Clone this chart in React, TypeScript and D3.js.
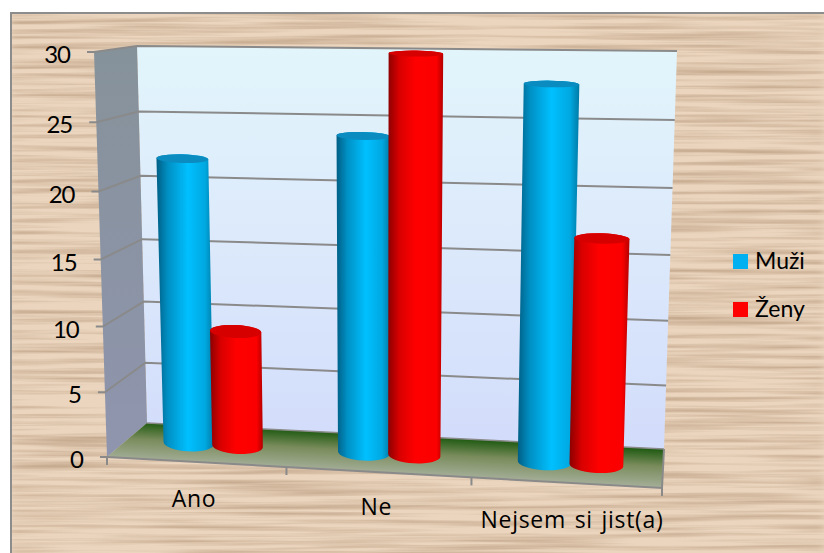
import React from "react";
import * as d3 from "d3";

const categories = ["Ano", "Ne", "Nejsem si jist(a)"];
const seriesNames = ["Muži", "Ženy"];
const muzi = [22, 24, 28];
const zeny = [9, 30, 17];
const yTicks = [0, 5, 10, 15, 20, 25, 30];
const labelNudgeX = [-2, -2, 6];
const labelNudgeY = [45, 43, 45];

const W = 824, H = 553;
type P = [number, number];
// perspective box corners: front/back, bottom/top, left/right
const FBL: P = [107, 457], FBR: P = [662, 488], BBL: P = [147, 423], BBR: P = [664, 449];
const FTL: P = [94, 52], FTR: P = [675, 64], BTL: P = [137, 46], BTR: P = [677, 51];

const lerp = (a: P, b: P, t: number): P => [a[0] + (b[0] - a[0]) * t, a[1] + (b[1] - a[1]) * t];
const vScale = d3.scaleLinear().domain([0, 30]).range([0, 1]);
const warpV = (v: number) => v - 0.05 * v * (1 - v);
const warpU = (u: number) => u - 0.045 * u * (1 - u);
// u along categories, value along y, d depth (0 front, 1 back)
function project(uRaw: number, value: number, d: number): P {
  const v = warpV(vScale(value));
  const u = warpU(uRaw);
  const front = lerp(lerp(FBL, FBR, u), lerp(FTL, FTR, u), v);
  const back = lerp(lerp(BBL, BBR, u), lerp(BTL, BTR, u), v);
  return lerp(front, back, d);
}
const pts = (a: P[]) => a.map((p) => p.join(",")).join(" ");

const band = d3.scaleBand<string>().domain(categories).range([0, 1]);
const inner = d3.scalePoint<string>().domain(seriesNames).range([-0.047, 0.047]);
const ryScale = d3.scaleLinear().domain([0, 30]).range([8, 3]);
const BAR_W = 0.097, DEPTH = 0.5;

const colors = { "Muži": "#00b0f0", "Ženy": "#ff0000" } as Record<string, string>;
const tops = { "Muži": "#0a8cc0", "Ženy": "#d60000" } as Record<string, string>;
const grid = "#8a8a8a";
const font = "Lato, Carlito, sans-serif";

function Bar({ cat, name, value }: { cat: string; name: string; value: number }) {
  const u = band(cat)! + band.bandwidth() / 2 + inner(name)!;
  const bl = project(u - BAR_W / 2, 0, DEPTH), br = project(u + BAR_W / 2, 0, DEPTH);
  const tl = project(u - BAR_W / 2, value, DEPTH), tr = project(u + BAR_W / 2, value, DEPTH);
  const rb = ryScale(0), rt = ryScale(value);
  const rxB = (br[0] - bl[0]) / 2, rxT = (tr[0] - tl[0]) / 2;
  const ang = (a: P, b: P) => (Math.atan2(b[1] - a[1], b[0] - a[0]) * 180) / Math.PI;
  const body = `M${tl} L${bl} A${rxB},${rb} ${ang(bl, br)} 0 0 ${br} L${tr} A${rxT},${rt} ${ang(tl, tr)} 0 0 ${tl}Z`;
  const c: P = lerp(tl, tr, 0.5);
  return (
    <g>
      <path d={body} fill={`url(#cyl${name === "Muži" ? 0 : 1})`} />
      <ellipse cx={c[0]} cy={c[1]} rx={rxT} ry={rt} fill={tops[name]} transform={`rotate(${ang(tl, tr)} ${c[0]} ${c[1]})`} />
    </g>
  );
}

export default function App() {
  return (
    <svg width={W} height={H} style={{ position: "absolute", left: 0, top: 0, display: "block" }} fontFamily={font}>
      <defs>
        <filter id="wood" x="0" y="0" width="100%" height="100%" colorInterpolationFilters="sRGB">
          <feTurbulence type="fractalNoise" baseFrequency="0.005 0.2" numOctaves={3} seed={11} />
          <feColorMatrix type="matrix" values="0 0 0 0 0.68  0 0 0 0 0.56  0 0 0 0 0.44  1.3 0 0 0 -0.5" />
          <feGaussianBlur stdDeviation="4 0.7" />
        </filter>
        <linearGradient id="backWall" x1="0" y1="0" x2="0" y2="1">
          <stop offset="0" stopColor="#e2f5fb" />
          <stop offset="0.5" stopColor="#dce9fb" />
          <stop offset="1" stopColor="#d2dcfb" />
        </linearGradient>
        <linearGradient id="sideWall" x1="0" y1="0" x2="0" y2="1">
          <stop offset="0" stopColor="#86929a" />
          <stop offset="1" stopColor="#8f95ae" />
        </linearGradient>
        <linearGradient id="floor" gradientUnits="userSpaceOnUse" x1="405" y1="436" x2="403" y2="474">
          <stop offset="0" stopColor="#1f5a12" />
          <stop offset="0.45" stopColor="#7a8c5c" />
          <stop offset="1" stopColor="#a4ae98" />
        </linearGradient>
        <linearGradient id="cyl0" x1="0" y1="0" x2="1" y2="0">
          <stop offset="0" stopColor="#005f85" />
          <stop offset="0.2" stopColor="#0090c4" />
          <stop offset="0.55" stopColor="#00c0ff" />
          <stop offset="0.85" stopColor="#00a8e0" />
          <stop offset="1" stopColor="#007aa6" />
        </linearGradient>
        <linearGradient id="cyl1" x1="0" y1="0" x2="1" y2="0">
          <stop offset="0" stopColor="#8c0000" />
          <stop offset="0.2" stopColor="#d80000" />
          <stop offset="0.5" stopColor="#ff0000" />
          <stop offset="0.88" stopColor="#fa0000" />
          <stop offset="1" stopColor="#b40000" />
        </linearGradient>
      </defs>

      {/* wood background */}
      <rect x={10} y={12} width={W - 10} height={H - 12} fill="#ebd5be" />
      <rect x={10} y={12} width={W - 10} height={H - 12} filter="url(#wood)" />
      <path d={`M11,${H} L11,13 L${W},13`} fill="none" stroke="#8c8c8c" strokeWidth={2} />

      {/* walls and floor */}
      <polygon points={pts([project(0, 30, 1), project(1, 30, 1), project(1, 0, 1), project(0, 0, 1)])} fill="url(#backWall)" />
      <polygon points={pts([project(0, 30, 0), project(0, 30, 1), project(0, 0, 1), project(0, 0, 0)])} fill="url(#sideWall)" />
      <polygon points={pts([project(0, 0, 0), project(1, 0, 0), project(1, 0, 1), project(0, 0, 1)])} fill="url(#floor)" />

      {/* gridlines and y axis */}
      {yTicks.map((t) => {
        const f = project(0, t, 0), b = project(0, t, 1), r = project(1, t, 1);
        const line: P[] = t === 0 ? [[f[0] - 7, f[1]], f] : [[f[0] - 7, f[1]], f, b, r];
        return (
          <g key={t}>
            <polyline points={pts(line)} fill="none" stroke={grid} strokeWidth={2} />
            {t === 0 && <line x1={b[0]} y1={b[1]} x2={r[0]} y2={r[1]} stroke={grid} strokeWidth={1.5} />}
            <text x={f[0] - 24} y={f[1] + 11} textAnchor="end" fontSize={24} letterSpacing={-1} fill="#000">{t}</text>
          </g>
        );
      })}
      <polyline points={pts([project(0, 0, 0), project(1, 0, 0), project(1, 0, 1)])} fill="none" stroke={grid} strokeWidth={2} />

      {/* category ticks */}
      {[0, 1 / 3, 2 / 3, 1].map((u) => {
        const p = project(u, 0, 0);
        return <line key={u} x1={p[0]} y1={p[1]} x2={p[0]} y2={p[1] + 8} stroke={grid} strokeWidth={2} />;
      })}

      {/* bars */}
      {seriesNames.flatMap((name, si) =>
        categories.map((cat, i) => (
          <Bar key={name + cat} cat={cat} name={name} value={(si === 0 ? muzi : zeny)[i]} />
        ))
      )}

      {/* category labels */}
      {categories.map((cat, i) => {
        const p = project((i + 0.5) / 3, 0, 0);
        return (
          <text key={cat} x={p[0] + labelNudgeX[i]} y={p[1] + labelNudgeY[i]} textAnchor="middle" fontFamily="'Open Sans', sans-serif" fontSize={23} letterSpacing={0.7} wordSpacing={2} fill="#000">{cat}</text>
        );
      })}

      {/* legend */}
      {seriesNames.map((name, i) => (
        <g key={name}>
          <rect x={733} y={254 + i * 48} width={15} height={15} fill={colors[name]} />
          <text x={755} y={269 + i * 48} fontSize={23} fill="#000">{name}</text>
        </g>
      ))}
    </svg>
  );
}
